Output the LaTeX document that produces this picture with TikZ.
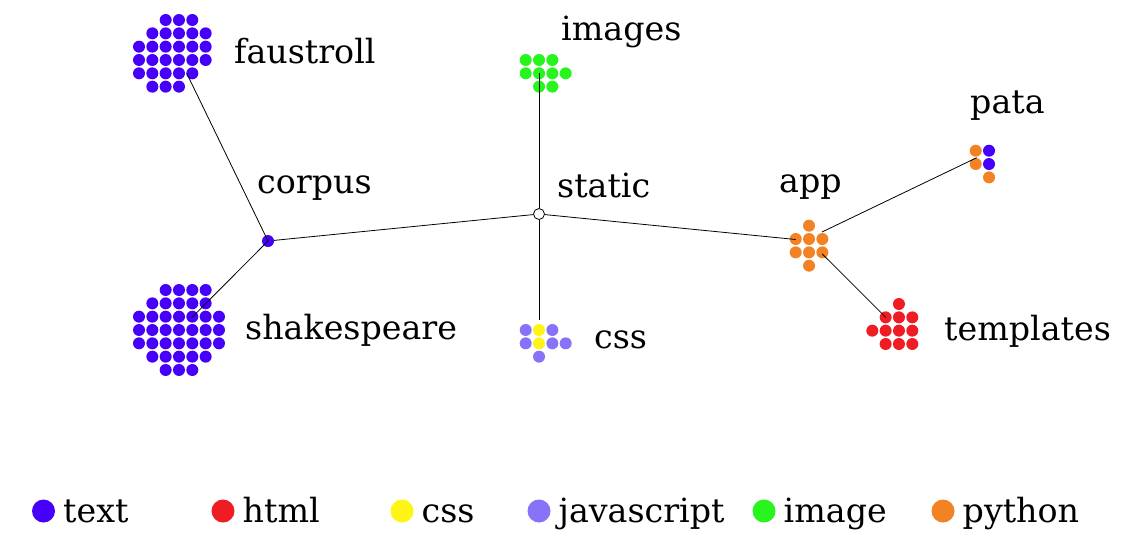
\documentclass[tikz,border=0pt]{standalone}
\usepackage{fontspec}
\setmainfont{DejaVu Serif}
\usetikzlibrary{positioning}

\definecolor{textcol}{RGB}{70,0,250}
\definecolor{htmlcol}{RGB}{240,28,36}
\definecolor{csscol}{RGB}{255,245,20}
\definecolor{jscol}{RGB}{135,115,250}
\definecolor{imgcol}{RGB}{40,245,30}
\definecolor{pycol}{RGB}{242,130,36}

\tikzset{
  dot/.style={circle,inner sep=0pt,minimum size=12pt},
  legdot/.style={circle,inner sep=0pt,minimum size=23pt},
  dirname/.style={anchor=base west,inner sep=0pt,font=\fontsize{33.3}{40}\selectfont},
  link/.style={draw=black,line width=0.8pt}
}

\begin{document}
\begin{tikzpicture}[x=1pt,y=-1pt]
  \useasboundingbox (0,0) rectangle (1139,555);

  % file clusters
  \begin{scope}[every node/.style={dot,fill=textcol}]
    \foreach \c/\r in {2/0,3/0,4/0, 1/1,2/1,3/1,4/1,5/1, 0/2,1/2,2/2,3/2,4/2,5/2,
                       0/3,1/3,2/3,3/3,4/3,5/3, 0/4,1/4,2/4,3/4,4/4, 1/5,2/5,3/5}
      \node (f\c\r) at (139+13.33*\c,20+13.33*\r) {};
    \foreach \c/\r in {2/0,3/0,4/0,5/0, 1/1,2/1,3/1,4/1,5/1, 0/2,1/2,2/2,3/2,4/2,5/2,6/2,
                       0/3,1/3,2/3,3/3,4/3,5/3,6/3, 0/4,1/4,2/4,3/4,4/4,5/4,6/4,
                       1/5,2/5,3/5,4/5,5/5, 2/6,3/6,4/6}
      \node (s\c\r) at (139+13.33*\c,290+13.33*\r) {};
    \foreach \c/\r in {1/0,1/1}
      \node (p\c\r) at (975.7+13.33*\c,150.7+13.33*\r) {};
    \node (corpus) at (268,241) {};
  \end{scope}

  \begin{scope}[every node/.style={dot,fill=imgcol}]
    \foreach \c/\r in {0/0,1/0,2/0, 0/1,1/1,2/1,3/1, 1/2,2/2}
      \node (i\c\r) at (525.7+13.33*\c,60+13.33*\r) {};
  \end{scope}

  \begin{scope}[every node/.style={dot,fill=jscol}]
    \foreach \c/\r in {0/0,2/0, 0/1,2/1,3/1, 1/2}
      \node (c\c\r) at (525.7+13.33*\c,330+13.33*\r) {};
  \end{scope}
  \begin{scope}[every node/.style={dot,fill=csscol}]
    \foreach \c/\r in {1/0,1/1}
      \node (c\c\r) at (525.7+13.33*\c,330+13.33*\r) {};
  \end{scope}

  \begin{scope}[every node/.style={dot,fill=pycol}]
    \foreach \c/\r in {1/0, 0/1,1/1,2/1, 0/2,1/2,2/2, 1/3}
      \node (a\c\r) at (795.7+13.33*\c,225.7+13.33*\r) {};
    \foreach \c/\r in {0/0,0/1,1/2}
      \node (p\c\r) at (975.7+13.33*\c,150.7+13.33*\r) {};
  \end{scope}

  \begin{scope}[every node/.style={dot,fill=htmlcol}]
    \foreach \c/\r in {2/0, 1/1,2/1,3/1, 0/2,1/2,2/2,3/2, 1/3,2/3,3/3}
      \node (t\c\r) at (872.3+13.33*\c,304+13.33*\r) {};
  \end{scope}

  \node[circle,draw=black,fill=white,line width=0.8pt,inner sep=0pt,minimum size=11pt] (static) at (539,214) {};

  % link ends
  \coordinate (faustroll) at (186.7,73.3);
  \coordinate (shakespeare) at (191.7,317.7);
  \coordinate (images) at (539,73.3);
  \coordinate (css) at (539,320);
  \coordinate (appin) at (795.7,239.5);
  \coordinate (apppata) at (822,232);
  \coordinate (apptpl) at (822.3,254);
  \coordinate (pata) at (976.7,157.7);
  \coordinate (templates) at (885.7,317.3);

  \path[link] (corpus.center) -- (faustroll);
  \path[link] (corpus.center) -- (shakespeare);
  \path[link] (static) -- (corpus);
  \path[link] (static) -- (images);
  \path[link] (static) -- (css);
  \path[link] (static) -- (appin);
  \path[link] (apppata) -- (pata);
  \path[link] (apptpl) -- (templates);

  % names
  \node[dirname] (nfaustroll) at (234,63.5) {faustroll};
  \node[dirname] (ncorpus) at (257,193) {corpus};
  \node[dirname] (nshakespeare) at (245,339.5) {shakespeare};
  \node[dirname] (nimages) at (561,40) {images};
  \node[dirname] (nstatic) at (557,197) {static};
  \node[dirname] (ncss) at (594,348) {css};
  \node[dirname] (napp) at (779,192) {app};
  \node[dirname] (npata) at (970,113) {pata};
  \node[dirname] (ntemplates) at (944,340) {templates};

  % legend
  \foreach \k/\x/\col/\txt in {ltext/43.5/textcol/text, lhtml/223/htmlcol/html,
                               lcss/402/csscol/css, ljs/539/jscol/javascript,
                               limg/764/imgcol/image, lpy/943/pycol/python}{
    \node[legdot,fill=\col] (\k) at (\x,511) {};
    \node[dirname] (\k name) at (\x+19.5,522) {\txt};
  }
\end{tikzpicture}
\end{document}
